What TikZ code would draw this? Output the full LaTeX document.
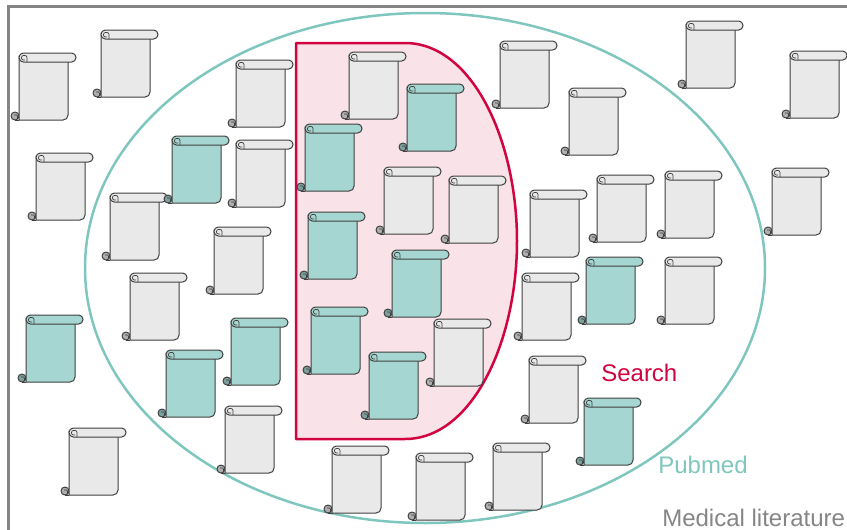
\documentclass[tikz,border=0pt]{standalone}
\usepackage{fontspec}
\setmainfont{Liberation Sans}
\usepackage{xcolor}
\definecolor{docGray}{HTML}{E9E9E9}
\definecolor{docTeal}{HTML}{A5D6D1}
\definecolor{pubmedTeal}{HTML}{7FC7BE}
\definecolor{searchRed}{HTML}{D2043F}
\definecolor{searchPink}{HTML}{F9E2E8}
\definecolor{litGray}{HTML}{858585}
\usetikzlibrary{positioning}

\begin{document}
\begin{tikzpicture}[x=1pt, y=-1pt,
  label/.style ={font=\fontsize{24}{24}\selectfont, anchor=base west, inner sep=0pt},
  %
  docline/.style ={draw=black!75, line width=1pt, line join=round},
  %
  scrollpage/.pic ={
    % curl at the foot
    \path [docline, fill=black!25!#1] (-4,63) circle [radius=4];
    % page
    \path [docline, fill=#1] (0,3) -- (0,67) -- (44,67)
      .. controls (47,67) and (49,65) .. (49,62) -- (49,5) -- cycle;
    \path [docline] (-4,67) -- (0,67);
    \path [docline, line width=.7pt, rounded corners=1pt] (-5,62) -- (-1.5,62) -- (-1.5,66);
    % roll at the head
    \path [docline, fill=#1, rounded corners=4.4pt] (0,0) rectangle (57,9);
    \path [docline, line width=.7pt, rounded corners=2pt] (8,9) -- (8,2.5) -- (2.5,2.5) -- (2.5,7) -- (6,7);
  }]

  \tikzset{every path/.style={line width=.6pt}}
  \useasboundingbox (0,0) rectangle (847,530);

  \begin{scope}
    \draw [litGray, line width=3pt] (847,6) -- (8,6) -- (8,530);
    \draw [pubmedTeal, line width=2.5pt] (425,268) ellipse [x radius=340, y radius=-255];
    \draw [searchRed, fill=searchPink, line width=2.5pt, line join=round]
      (296,43) -- (405,43) .. controls (472,43) and (517,140) .. (517,241)
      .. controls (517,342) and (472,439) .. (405,439) -- (296,439) -- cycle;
  \end{scope}

  \begin{scope}
    %%%%%%%%%%%%%%%%%%%%%%%%%%%%%%%
    \foreach \px/\py in {19/53, 101/30, 236/60, 36/153, 110/193, 236/140, 214/227,
      130/273, 225/406, 69/428, 349/52, 384/167, 449/176, 434/319, 500/41, 569/88,
      530/190, 597/175, 665/171, 522/273, 665/257, 529/356, 686/21, 790/51, 772/168,
      332/446, 416/453, 493/443}
      \pic at (\px,\py) {scrollpage=docGray};
    %%%%%%%%%%%%%%%%%%%%%%%%%%%%%%%
    \foreach \px/\py in {172/136, 407/84, 305/124, 308/212, 392/250, 311/307, 369/352,
      231/318, 166/350, 26/315, 586/257, 584/398}
      \pic at (\px,\py) {scrollpage=docTeal};
  \end{scope}

  \node [label, text=searchRed] (search) at (601,381) {Search};
  \node [label, text=pubmedTeal] (pubmed) at (658,473) {Pubmed};
  \node [label, text=litGray] (medical) at (662,526) {Medical literature};

\end{tikzpicture}
\end{document}
